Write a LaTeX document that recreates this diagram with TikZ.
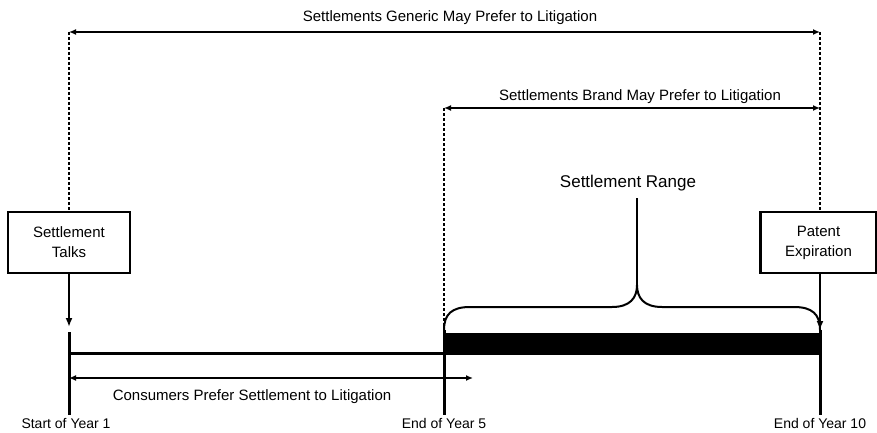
\documentclass[tikz,border=0pt]{standalone}
\usepackage{fontspec}
\setmainfont{Liberation Sans}
\usetikzlibrary{arrows.meta}
\begin{document}
\begin{tikzpicture}[x=1pt,y=-1pt,
  lbl/.style={inner sep=0pt, font=\fontsize{15}{18}\selectfont},
  smalllbl/.style={inner sep=0pt, anchor=base, font=\fontsize{14}{17}\selectfont},
  bigger/.style={inner sep=0pt, font=\fontsize{17}{20}\selectfont},
  box/.style={draw, line width=2.4pt, align=center, inner sep=0pt,
    font=\fontsize{15}{20}\selectfont, minimum height=61pt},
  span/.style={line width=1.8pt, {Latex[length=7pt,width=6pt]}-{Latex[length=7pt,width=6pt]}},
  down/.style={line width=2.4pt, -{Latex[length=9pt,width=7pt]}},
  guide/.style={line width=1.1pt, dash pattern=on 3pt off 2pt},
  tick/.style={line width=3pt},
  brace/.style={line width=2pt, line join=round}
]
\useasboundingbox (0,0) rectangle (877,433);

% boxes
\node[box, minimum width=122pt] (talks) at (69,242.5) {Settlement\\Talks};
\node[box, minimum width=116pt] (expir) at (818.5,242.5) {Patent\\Expiration};

% coordinates
\coordinate (g1) at (69,32);
\coordinate (g2) at (820,32);
\coordinate (b1) at (444,108);
\coordinate (b2) at (820,108);
\coordinate (s1) at (69,327);
\coordinate (s1b) at (69,332);
\coordinate (s1e) at (69,415);
\coordinate (y5t) at (444,330);
\coordinate (y5e) at (444,415);
\coordinate (y10t) at (820,330);
\coordinate (y10e) at (820,415);
\coordinate (c1) at (69,378);
\coordinate (c2) at (473,378);
\coordinate (stemtop) at (637,198);
\coordinate (stembot) at (637,285);

% span arrows
\draw[span] (g1) -- (g2);
\draw[span] (b1) -- (b2);
\node[lbl] (glbl) at (450,18) {Settlements Generic May Prefer to Litigation};
\node[lbl] (blbl) at (640,97) {Settlements Brand May Prefer to Litigation};

% dashed guides
\draw[guide] (g1) -- (talks.north);
\draw[guide] (g2) -- (g2 |- expir.north);
\draw[guide] (b1) -- (y5t);

% timeline
\draw[line width=3pt] (69,353) -- (444,353);
\fill[black] (444,333) rectangle (820,355);
\draw[tick] (s1b) -- (s1e);
\draw[tick] (y5t) -- (y5e);
\draw[tick] (y10t) -- (y10e);

% arrows from boxes
\draw[down] (talks.south) -- (s1);
\draw[down] (y10t |- expir.south) -- (y10t);

% brace
\draw[brace] (y5t) .. controls (444,314) and (452,307) .. (470,307)
  -- (612,307) .. controls (630,307) and (637,298) .. (stembot)
  .. controls (637,298) and (644,307) .. (662,307)
  -- (794,307) .. controls (812,307) and (820,314) .. (y10t);
\draw[brace] (stembot) -- (stemtop);
\node[bigger] (range) at (628,183) {Settlement Range};

% consumers
\draw[span] (c1) -- (c2);
\node[lbl] (clbl) at (252,397) {Consumers Prefer Settlement to Litigation};

% bottom labels
\node[smalllbl] (l1) at (66,428) {Start of Year 1};
\node[smalllbl] (l5) at (444,428) {End of Year 5};
\node[smalllbl] (l10) at (820,428) {End of Year 10};
\end{tikzpicture}
\end{document}
